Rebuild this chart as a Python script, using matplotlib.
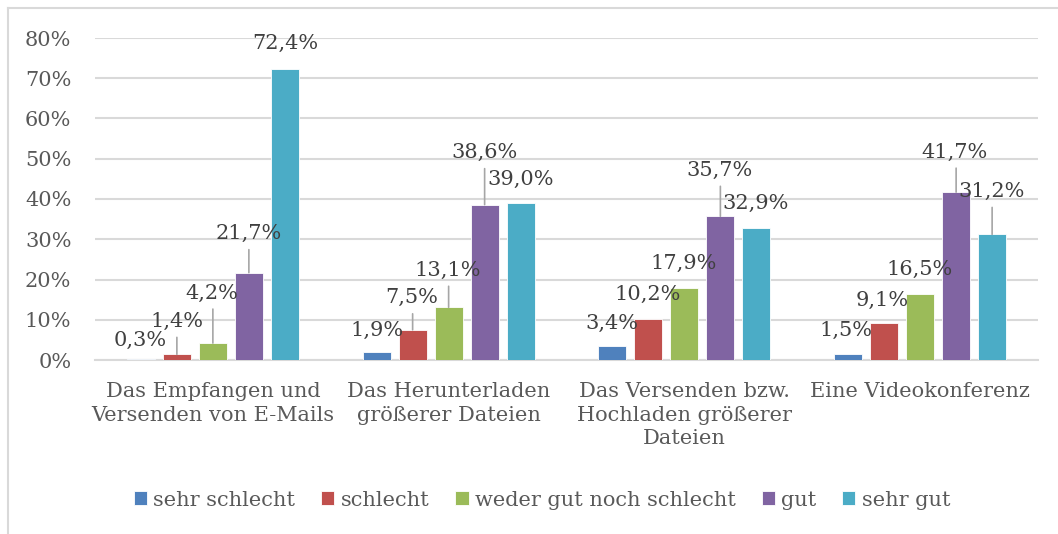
import matplotlib
matplotlib.use("Agg")
import matplotlib.pyplot as plt
import numpy as np
from matplotlib.lines import Line2D

# data (percent)
categories = ["Das Empfangen und\nVersenden von E-Mails",
              "Das Herunterladen\ngrößerer Dateien",
              "Das Versenden bzw.\nHochladen größerer\nDateien",
              "Eine Videokonferenz"]
series = ["sehr schlecht", "schlecht", "weder gut noch schlecht", "gut", "sehr gut"]
sehr_schlecht = [0.3, 1.9, 3.4, 1.5]
schlecht = [1.4, 7.5, 10.2, 9.1]
weder_noch = [4.2, 13.1, 17.9, 16.5]
gut = [21.7, 38.6, 35.7, 41.7]
sehr_gut = [72.4, 39.0, 32.9, 31.2]
values = [sehr_schlecht, schlecht, weder_noch, gut, sehr_gut]
yticks = [0, 10, 20, 30, 40, 50, 60, 70, 80]

colors = ["#4F81BD", "#C0504D", "#9BBB59", "#8064A2", "#4BACC6"]

# label offsets in pixels (dx, dy) from bar top, per series / category
label_off = [
    [(-1, 18), (0, 22), (-1, 23), (-2, 24)],
    [(0, 33), (-1, 32), (-1, 25), (-2, 23)],
    [(-1, 50), (-1, 37), (-1, 25), (-1, 24)],
    [(0, 39), (0, 52), (-1, 46), (-2, 40)],
    [(0, 25), (0, 24), (-1, 24), (-1, 43)],
]

plt.rcParams['font.family'] = ['DejaVu Serif']
FS = 15
txt_col = "#595959"
lbl_col = "#404040"
grid_col = "#D9D9D9"

fig = plt.figure(figsize=(10.58, 5.34), dpi=100)
W, H = 1058, 534
ax = fig.add_axes([95 / W, 1 - 360 / H, (1038 - 95) / W, (360 - 38) / H])

# chart border (only top and left edges are visible in the crop)
fig.lines.append(Line2D([8 / W, 1.0], [1 - 8 / H, 1 - 8 / H],
                        transform=fig.transFigure, color=grid_col, lw=1.5))
fig.lines.append(Line2D([8 / W, 8 / W], [1 - 8 / H, 0.0],
                        transform=fig.transFigure, color=grid_col, lw=1.5))

x = np.arange(len(categories))
slot = 0.1527
bw = 0.1188

for i, (name, vals) in enumerate(zip(series, values)):
    xs = x + (i - 2) * slot
    ax.bar(xs, vals, width=bw, color=colors[i], edgecolor="white",
           linewidth=0.6, label=name, zorder=3)
    for j, (xx, v) in enumerate(zip(xs, vals)):
        dx, dy = label_off[i][j]
        ax.annotate(f"{v:.1f}".replace(".", ",") + "%", xy=(xx, v),
                    xytext=(dx, dy), textcoords="offset pixels",
                    ha="center", va="center", fontsize=FS, color=lbl_col,
                    zorder=5)
        if dy > 28:
            ax.annotate("", xy=(xx, v), xytext=(0, dy - 16),
                        textcoords="offset pixels",
                        arrowprops=dict(arrowstyle="-", color="#A6A6A6",
                                        lw=1.2, shrinkA=0, shrinkB=0),
                        zorder=4)

ax.set_xlim(-0.5, 3.5)
ax.set_ylim(0, 80)
ax.set_yticks(yticks)
ax.set_yticklabels([f"{t}%" for t in yticks])
ax.set_xticks(x)
ax.set_xticklabels(categories, linespacing=1.3, va="top")
ax.tick_params(axis="both", length=0, labelsize=FS, labelcolor=txt_col)
ax.tick_params(axis="y", pad=17)
ax.tick_params(axis="x", pad=16)

ax.grid(axis="y", color=grid_col, linewidth=1.5, zorder=0)
for s in ["top", "right", "left"]:
    ax.spines[s].set_visible(False)
ax.spines["bottom"].set_color(grid_col)
ax.spines["bottom"].set_linewidth(1.5)

leg = fig.legend(loc="center", bbox_to_anchor=(542 / W, 1 - 500 / H), ncol=5,
                 frameon=False, fontsize=FS, handlelength=0.63, handleheight=0.63,
                 handletextpad=0.3, columnspacing=1.25, labelcolor=txt_col)

fig.savefig("out.png", dpi=100)
